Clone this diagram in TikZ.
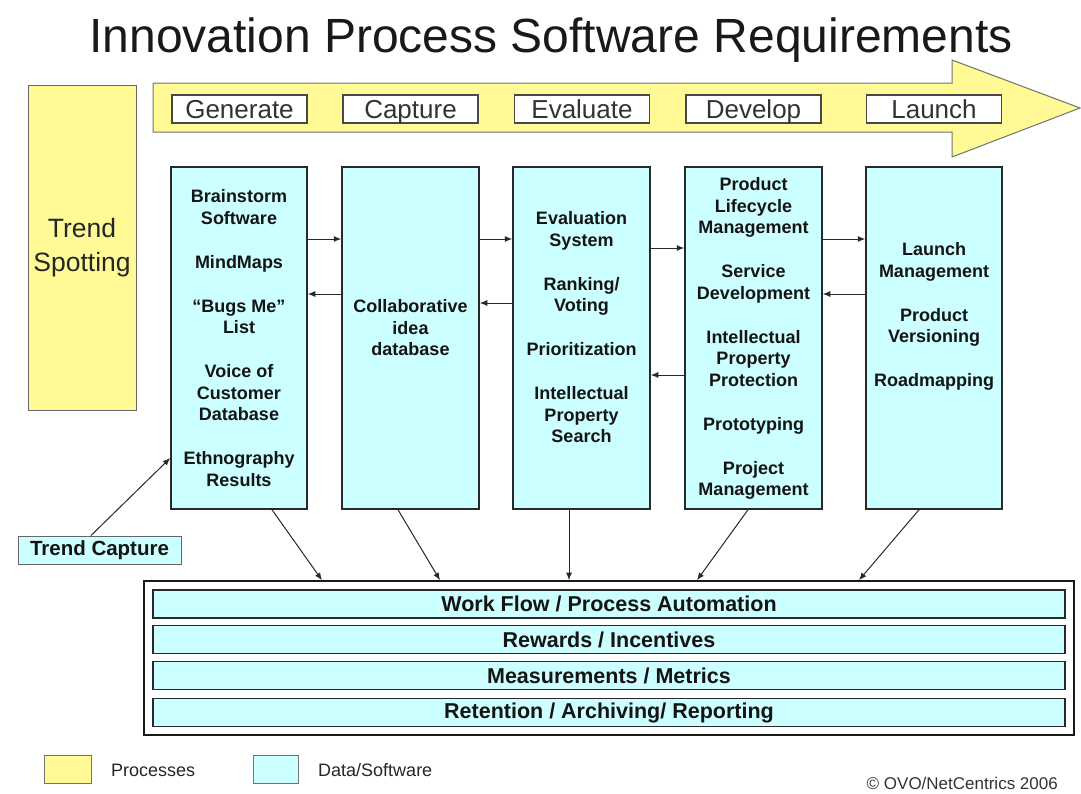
\documentclass[tikz,border=0pt]{standalone}
\usepackage{fontspec}
\setmainfont{Liberation Sans}
\usetikzlibrary{arrows.meta}

\definecolor{procyellow}{RGB}{255,250,150}
\definecolor{datacyan}{RGB}{204,255,255}
\definecolor{edgedark}{RGB}{40,40,40}
\definecolor{textgray}{RGB}{51,51,51}

\begin{document}
\begin{tikzpicture}[x=1pt,y=-1pt,
  procbox/.style={rectangle, draw=black!60, line width=1pt, fill=procyellow, inner sep=0pt},
  colbox/.style={rectangle, draw=edgedark, line width=1.5pt, fill=datacyan,
    minimum width=136pt, minimum height=342pt, inner sep=0pt},
  stagebox/.style={rectangle, draw=edgedark!85, line width=1.1pt, fill=white,
    minimum width=135pt, minimum height=28pt, inner ysep=3pt, inner xsep=0pt,
    text height=20pt, text depth=2pt, text=textgray,
    font=\fontsize{26}{30}\selectfont},
  boxtext/.style={align=center, inner sep=0pt, text=black!92,
    font=\bfseries\fontsize{18}{21.5}\selectfont},
  layerbar/.style={rectangle, draw=edgedark, line width=1.6pt, fill=datacyan,
    minimum width=912pt, minimum height=28pt, inner sep=0pt, text=black!92,
    font=\bfseries\fontsize{21.5}{24}\selectfont},
  legendbox/.style={rectangle, draw=black!55, line width=1pt, minimum height=28pt, inner sep=0pt},
  legendtext/.style={anchor=west, inner sep=0pt, text=black!85, font=\fontsize{18}{20}\selectfont},
  flow/.style={draw=edgedark, line width=1pt, -{Latex[length=7.5pt,width=6pt]}}
]
\fill[white] (0,0) rectangle (1081,793);
\useasboundingbox (0,0) rectangle (1081,793);

% title
\node[anchor=base, inner sep=0pt, text=black!90, font=\fontsize{48}{56}\selectfont]
  (title) at (551,52) {Innovation Process Software Requirements};

% process arrow with the five stages
\draw[draw=black!55, line width=1pt, fill=procyellow]
  (153,83) -- (952,83) -- (952,60) -- (1080,108) -- (952,157) -- (952,132) -- (153,132) -- cycle;
\node[stagebox] (sGen) at (239.5,109) {Generate};
\node[stagebox] (sCap) at (410.5,109) {Capture};
\node[stagebox] (sEva) at (582,109) {Evaluate};
\node[stagebox] (sDev) at (753.5,109) {Develop};
\node[stagebox] (sLau) at (934,109) {Launch};

% trend spotting process
\node[procbox, minimum width=108pt, minimum height=325pt, align=center, text=black!85,
  font=\fontsize{26.5}{34}\selectfont] (spot) at (82,248) {Trend\\Spotting};

% software columns
\node[colbox] (c1) at (239,338) {};
\node[colbox, minimum width=137pt] (c2) at (410.5,338) {};
\node[colbox, minimum width=137pt] (c3) at (581.5,338) {};
\node[colbox, minimum width=137pt] (c4) at (753.5,338) {};
\node[colbox] (c5) at (934,338) {};

\node[boxtext] (t1) at (239,338) {Brainstorm\\Software\\[22.5pt]MindMaps\\[22.5pt]“Bugs Me”\\List\\[22.5pt]Voice of\\Customer\\Database\\[22.5pt]Ethnography\\Results};
\node[boxtext] (t2) at (410.5,328) {Collaborative\\idea\\database};
\node[boxtext] (t3) at (581.5,327.5) {Evaluation\\System\\[22.5pt]Ranking/\\Voting\\[22.5pt]Prioritization\\[22.5pt]Intellectual\\Property\\Search};
\node[boxtext] (t4) at (753.5,338.5) {Product\\Lifecycle\\Management\\[22.5pt]Service\\Development\\[22.5pt]Intellectual\\Property\\Protection\\[22.5pt]Prototyping\\[22.5pt]Project\\Management};
\node[boxtext] (t5) at (934,316.5) {Launch\\Management\\[22.5pt]Product\\Versioning\\[22.5pt]Roadmapping};

% links between columns
\draw[flow] (c1.east |- 0,239) -- (c2.west |- 0,239);
\draw[flow] (c2.west |- 0,294) -- (c1.east |- 0,294);
\draw[flow] (c2.east |- 0,239) -- (c3.west |- 0,239);
\draw[flow] (c3.west |- 0,303) -- (c2.east |- 0,303);
\draw[flow] (c3.east |- 0,248) -- (c4.west |- 0,248);
\draw[flow] (c4.west |- 0,375) -- (c3.east |- 0,375);
\draw[flow] (c4.east |- 0,239) -- (c5.west |- 0,239);
\draw[flow] (c5.west |- 0,294) -- (c4.east |- 0,294);

% trend capture feed
\node[rectangle, draw=black!60, line width=1pt, fill=datacyan, minimum width=163pt,
  minimum height=28pt, inner sep=0pt, text=black!92,
  font=\bfseries\fontsize{20.5}{24}\selectfont] (cap) at (99.5,550) {Trend Capture};
\draw[flow] (cap.north -| 91,0) -- (c1.west |- 0,458);

% shared layers
\node[rectangle, draw=black!90, line width=1.6pt, fill=white, minimum width=930pt,
  minimum height=154pt, inner sep=0pt] (layers) at (609,658) {};
\node[layerbar] (l1) at (609,604) {Work Flow / Process Automation};
\node[layerbar] (l2) at (609,639.5) {Rewards / Incentives};
\node[layerbar] (l3) at (609,675.5) {Measurements / Metrics};
\node[layerbar] (l4) at (609,712.5) {Retention / Archiving/ Reporting};

\draw[flow] (c1.south -| 272,0) -- (layers.north -| 322,0);
\draw[flow] (c2.south -| 398,0) -- (layers.north -| 440,0);
\draw[flow] (c3.south -| 569,0) -- (layers.north -| 569,0);
\draw[flow] (c4.south -| 748,0) -- (layers.north -| 697,0);
\draw[flow] (c5.south -| 919,0) -- (layers.north -| 859,0);

% legend
\node[legendbox, fill=procyellow, minimum width=47pt] (lgY) at (67.5,769) {};
\node[legendtext] (lgP) at (111,770) {Processes};
\node[legendbox, fill=datacyan, minimum width=45pt] (lgC) at (275.5,769) {};
\node[legendtext] (lgD) at (318,770) {Data/Software};

\node[anchor=east, inner sep=0pt, text=textgray, font=\fontsize{17}{20}\selectfont]
  (copy) at (1058,783) {© OVO/NetCentrics 2006};
\end{tikzpicture}
\end{document}
